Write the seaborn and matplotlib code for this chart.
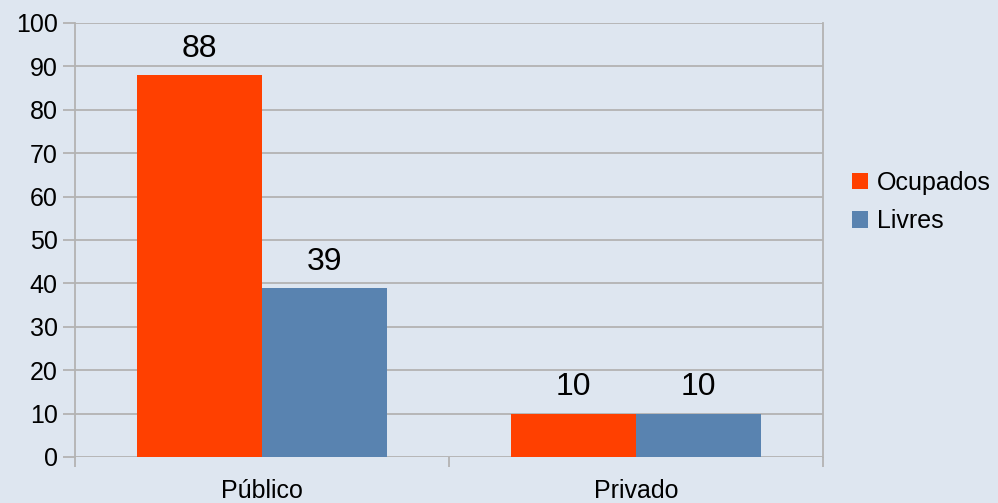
import numpy as np
import pandas as pd
import seaborn as sns
import matplotlib.pyplot as plt
from matplotlib.ticker import MultipleLocator, FixedLocator

categorias = ['Público', 'Privado']
ocupados = [88, 10]
livres = [39, 10]
series = ['Ocupados', 'Livres']
cores = ['#ff4000', '#5983b0']

df = pd.DataFrame({
    'tipo': categorias * 2,
    'estado': ['Ocupados'] * 2 + ['Livres'] * 2,
    'valor': ocupados + livres,
})

sns.set_style('white')
plt.rcParams['font.family'] = ['Liberation Sans', 'DejaVu Sans']
plt.rcParams['text.color'] = 'black'
plt.rcParams['xtick.labelcolor'] = 'black'
plt.rcParams['ytick.labelcolor'] = 'black'

bg = '#dee6f0'
grid = '#b3b3b3'

fig = plt.figure(figsize=(9.98, 5.03), dpi=100, facecolor=bg)
ax = fig.add_axes([0.0752, 0.0915, 0.7494, 0.8628], facecolor=bg)

sns.barplot(data=df, x='tipo', y='valor', hue='estado', hue_order=series,
            palette=cores, width=2/3, saturation=1, ax=ax, linewidth=0,
            edgecolor='none', zorder=3)

for c in ax.containers:
    ax.bar_label(c, fmt='%d', padding=8, fontsize=23, color='black')

ax.set_ylim(0, 100)
ax.set_xlim(-0.5, 1.5)
ax.yaxis.set_major_locator(MultipleLocator(10))
ax.grid(axis='y', color=grid, linewidth=1.3, zorder=0)
ax.set_axisbelow(True)

ax.tick_params(axis='y', length=8.6, width=1.3, color=grid, labelsize=18, pad=4, left=True)
ax.xaxis.set_minor_locator(FixedLocator([-0.5, 0.5, 1.5]))
ax.tick_params(axis='x', which='major', length=0, labelsize=18, pad=16)
ax.tick_params(axis='x', which='minor', length=7.2, width=1.3, color=grid, bottom=True)

for s in ['top', 'bottom']:
    ax.spines[s].set_visible(False)
for s in ['left', 'right']:
    ax.spines[s].set_color(grid)
    ax.spines[s].set_linewidth(1.3)

ax.set_xlabel('')
ax.set_ylabel('')

ax.legend_.remove()
h, l = ax.get_legend_handles_labels()
fig.legend(h, l, loc='center left', bbox_to_anchor=(0.854, 0.598), frameon=False,
           fontsize=18, handlelength=0.64, handleheight=0.64, handletextpad=0.35,
           labelspacing=0.58, borderpad=0, borderaxespad=0)

fig.savefig('out.png', dpi=100, facecolor=bg)
